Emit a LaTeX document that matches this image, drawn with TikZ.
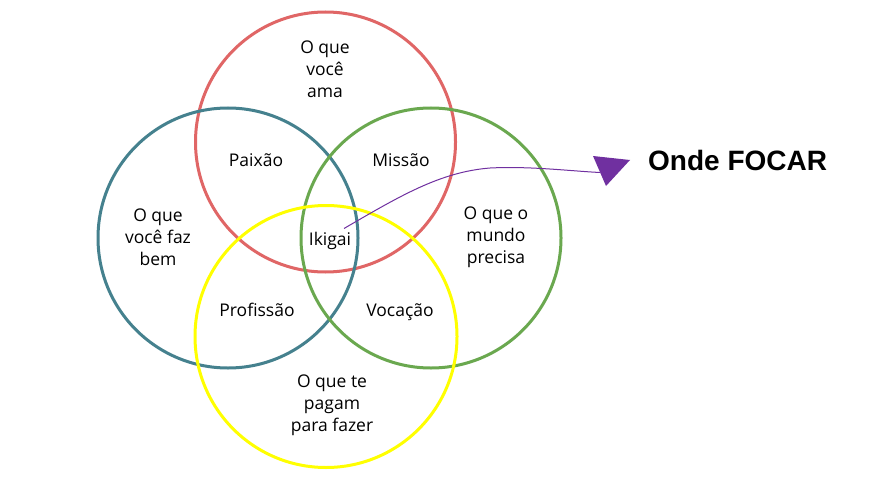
\documentclass[tikz,border=0pt]{standalone}
\usepackage{fontspec}
\setmainfont{Open Sans}
\newfontfamily\headfont{Liberation Sans}
\usetikzlibrary{calc}
\definecolor{cred}{HTML}{E06666}
\definecolor{cblue}{HTML}{45818E}
\definecolor{cgreen}{HTML}{6AA84F}
\definecolor{cyellow}{HTML}{FFFF00}
\definecolor{cpurple}{HTML}{7030A0}
\tikzset{
  ring/.style={line width=3pt, draw=#1},
  lbl/.style={align=center, inner sep=0pt, font=\fontsize{17.5}{22}\selectfont},
  one/.style={lbl, anchor=base},
  head/.style={inner sep=0pt, anchor=west, font=\headfont\bfseries\fontsize{28}{30}\selectfont},
  conn/.style={draw=cpurple, line width=1pt},
}
\begin{document}
\begin{tikzpicture}[x=1pt,y=-1pt]
\useasboundingbox (0,0) rectangle (888,492);
\fill[white] (0,0) rectangle (888,492);
\draw[ring=cred] (325.5,142) circle (130);
\draw[ring=cblue] (228,238) circle (130);
\draw[ring=cgreen] (431,238) circle (130);
\draw[ring=cyellow] (326,336.5) circle (131);

\node[lbl] (ama) at (325,69) {O que\\você\\ama};
\node[lbl] (faz) at (158,237) {O que\\você faz\\bem};
\node[lbl] (mundo) at (496,237) {O que o\\mundo\\precisa};
\node[lbl] (pagam) at (332,405) {O que te\\pagam\\para fazer};
\node[one] (paixao) at (256,166.5) {Paixão};
\node[one] (missao) at (401,166.5) {Missão};
\node[one] (prof) at (257,316.5) {Profissão};
\node[one] (voc) at (400,316.5) {Vocação};
\node[one] (ikigai) at (330,245.5) {Ikigai};
\node[head] (focar) at (648,160) {Onde FOCAR};

\coordinate (s) at ($(ikigai.base)+(14,-17)$);
\coordinate (b) at (600,172.5);
\coordinate (t1) at (593,156);
\coordinate (t2) at (630,160);
\coordinate (t3) at (606,186);
\draw[conn] (s) .. controls (400,196) and (440,172) .. (490,168) .. controls (530,166) and (570,171) .. (b);
\fill[cpurple] (t1) -- (t2) -- (t3) -- cycle;
\end{tikzpicture}
\end{document}
